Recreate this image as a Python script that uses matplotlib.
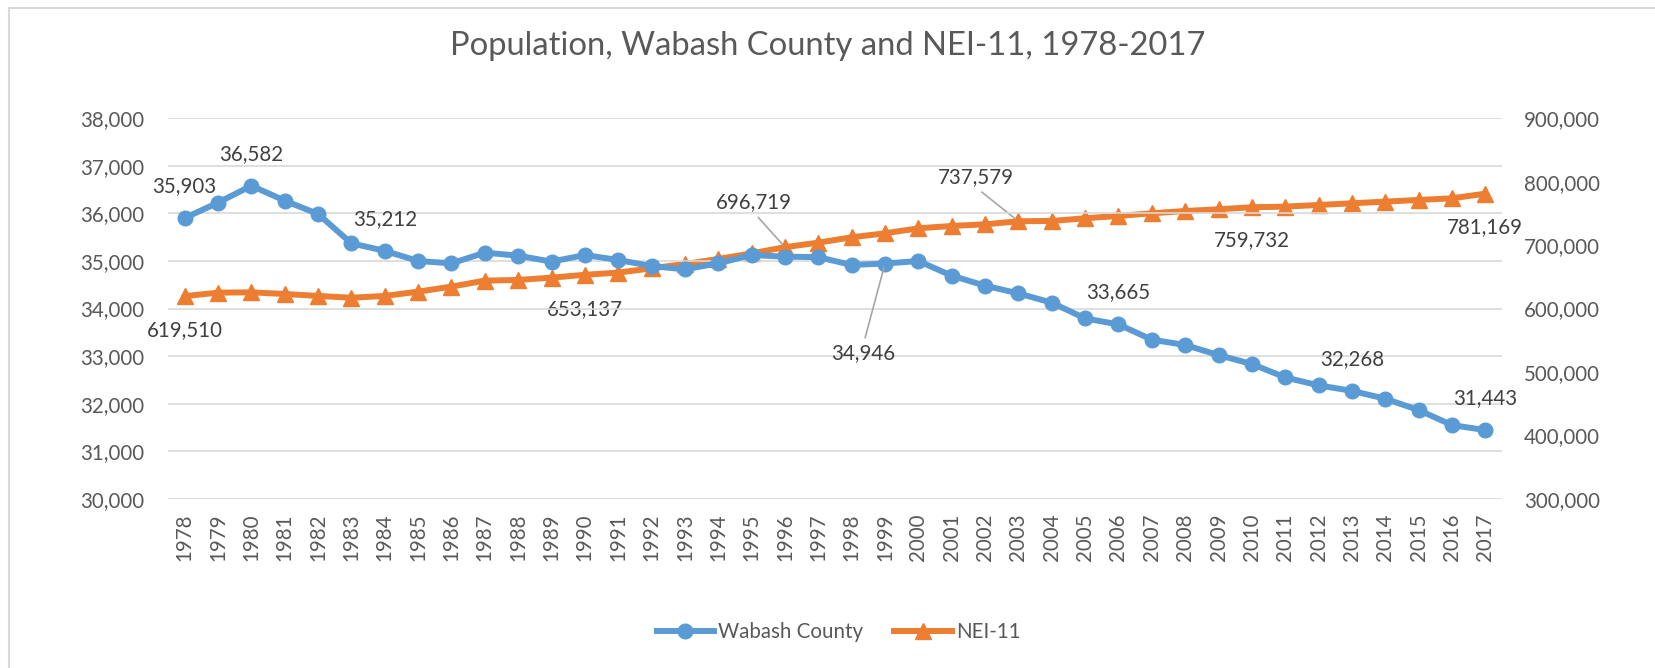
import matplotlib
matplotlib.use('Agg')
import matplotlib.pyplot as plt
from matplotlib.lines import Line2D
import numpy as np

plt.rcParams['font.family'] = ['Lato', 'DejaVu Sans']

years = list(range(1978, 2018))
wabash = [35903, 36226, 36582, 36268, 35987, 35370, 35212, 34999, 34950, 35174,
          35111, 34985, 35125, 35020, 34893, 34823, 34950, 35125, 35090, 35080,
          34915, 34946, 34999, 34690, 34480, 34318, 34122, 33792, 33665, 33345,
          33232, 33021, 32832, 32551, 32383, 32268, 32102, 31864, 31548, 31443]
nei = [619510, 625000, 625500, 622900, 619800, 617000, 619800, 626600, 634500, 644000,
       645000, 648700, 653137, 656600, 663400, 670200, 678100, 687000, 696719, 703900,
       712300, 718600, 726500, 730200, 732800, 737579, 738100, 742300, 746000, 750200,
       753800, 756500, 759732, 760700, 763300, 765900, 768600, 771200, 773800, 781169]

# which points carry a data label: (index, dx_pt, dy_pt, leader)
wabash_labels = [(0, 0, 23, False), (2, 0, 23, False), (6, 0, 23, False),
                 (21, -15.4, -64.6, True), (28, 0, 23, False), (35, 0, 23, False),
                 (39, 0, 23, False)]
nei_labels = [(0, 0, -24.5, False), (12, 0, -24.5, False), (18, -22.4, 32.2, True),
              (25, -30.5, 31.5, True), (32, 0, -24, False), (39, 0, -24, False)]

BLUE = '#5B9BD5'
ORANGE = '#ED7D31'
TXT = '#404040'
AX = '#595959'
FS = 14.8

fig = plt.figure(figsize=(16.55, 6.68), dpi=100)
ax = fig.add_axes([168 / 1655, 1 - 498.7 / 668, (1502 - 168) / 1655, (498.7 - 118.3) / 668])
ax2 = ax.twinx()

x = np.arange(len(years))
ax.plot(x, wabash, color=BLUE, lw=4.3, marker='o', ms=10.5, zorder=3, solid_capstyle='round')
ax2.plot(x, nei, color=ORANGE, lw=4.3, marker='^', ms=11, zorder=3, solid_capstyle='round')

ax.set_xlim(-0.5, len(years) - 0.5)
ax.set_ylim(30000, 38000)
ax2.set_ylim(300000, 900000)
ax.set_yticks(np.arange(30000, 38001, 1000))
ax2.set_yticks(np.arange(300000, 900001, 100000))
ax.set_xticks(x)
ax.set_xticklabels([str(y) for y in years], rotation=90)
ax.yaxis.set_major_formatter(matplotlib.ticker.StrMethodFormatter('{x:,.0f}'))
ax2.yaxis.set_major_formatter(matplotlib.ticker.StrMethodFormatter('{x:,.0f}'))

ax.grid(axis='y', color='#D9D9D9', lw=1.2)
ax.set_axisbelow(True)
for a in (ax, ax2):
    for s in a.spines.values():
        s.set_visible(False)
ax.tick_params(axis='y', length=0, pad=17, labelsize=FS, labelcolor=AX)
ax.tick_params(axis='x', length=0, pad=11, labelsize=FS, labelcolor=AX)
ax2.tick_params(axis='y', length=0, pad=16, labelsize=FS, labelcolor=AX)
ax.set_zorder(ax2.get_zorder() + 1)
ax.patch.set_visible(False)


def add_labels(axis, values, specs):
    for i, dx, dy, leader in specs:
        arrow = None
        if leader:
            arrow = dict(arrowstyle='-', color='#A6A6A6', lw=1.2, shrinkA=2, shrinkB=3,
                         relpos=(0.5, 1) if dy < 0 else (0.5, 0))
        axis.annotate(f'{values[i]:,}', xy=(x[i], values[i]), xytext=(dx, dy),
                      textcoords='offset points', ha='center', va='center',
                      fontsize=FS, color=TXT, arrowprops=arrow, zorder=5)


add_labels(ax, wabash, wabash_labels)
add_labels(ax2, nei, nei_labels)

fig.text(0.5, 1 - 46 / 668, 'Population, Wabash County and NEI-11, 1978-2017',
         ha='center', va='center', fontsize=23.6, color=AX, fontweight='normal')

handles = [Line2D([], [], color=BLUE, lw=4.3, marker='o', ms=10.5),
           Line2D([], [], color=ORANGE, lw=4.3, marker='^', ms=11)]
leg = fig.legend(handles, ['Wabash County', 'NEI-11'], loc='center',
                 bbox_to_anchor=(838.5 / 1655, 1 - 631.7 / 668), ncol=2, frameon=False,
                 fontsize=FS, handlelength=2.8, handletextpad=0.2, columnspacing=1.5)
for t in leg.get_texts():
    t.set_color(AX)

# chart area border (left and top edges visible)
fig.add_artist(Line2D([9 / 1655, 9 / 1655], [0, 1 - 8 / 668], color='#D9D9D9', lw=1.5,
                      transform=fig.transFigure))
fig.add_artist(Line2D([9 / 1655, 1], [1 - 8 / 668, 1 - 8 / 668], color='#D9D9D9', lw=1.5,
                      transform=fig.transFigure))

fig.savefig('out.png', dpi=100)
